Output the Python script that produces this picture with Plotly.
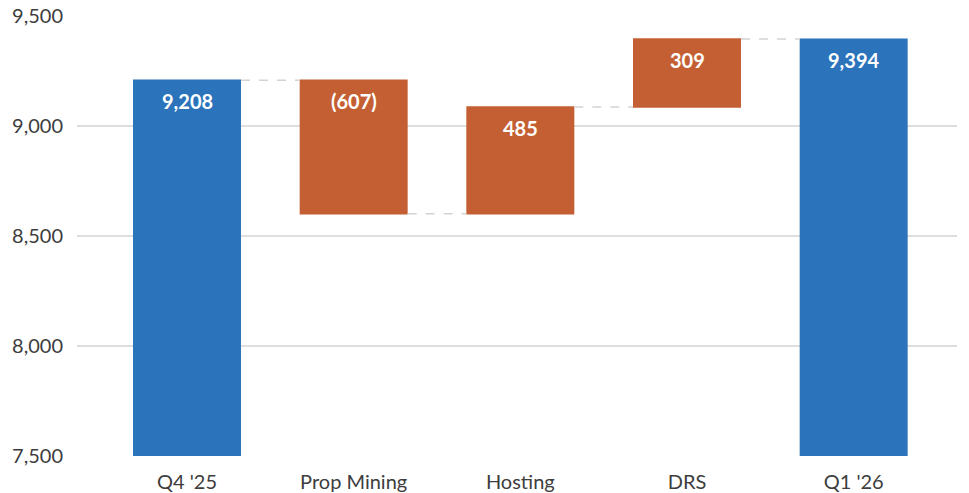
import plotly.graph_objects as go

# Bridge from Q4 '25 to Q1 '26
categories = ["Q4 '25", "Prop Mining", "Hosting", "DRS", "Q1 '26"]
values = [9208, -607, 485, 309, 9394]
measures = ["absolute", "relative", "relative", "relative", "absolute"]
labels = ["9,208", "(607)", "485", "309", "9,394"]
y_ticks = [7500, 8000, 8500, 9000, 9500]

BLUE = "#2B73BA"
ORANGE = "#C45F34"
FONT = "Lato, 'Open Sans', sans-serif"

fig = go.Figure()
fig.add_trace(go.Waterfall(
    x=categories,
    y=values,
    measure=measures,
    width=0.648,
    textposition="none",
    totals=dict(marker=dict(color=BLUE)),
    increasing=dict(marker=dict(color=ORANGE)),
    decreasing=dict(marker=dict(color=ORANGE)),
    connector=dict(mode="between", line=dict(color="#d3d3d3", width=1.5, dash="dash")),
    hoverinfo="skip",
))

# value labels at the top edge of each bar
running = 0
for cat, val, meas, lab in zip(categories, values, measures, labels):
    if meas == "absolute":
        top = val
        running = val
    else:
        top = max(running, running + val)
        running += val
    fig.add_annotation(
        x=cat, y=top, text=lab, showarrow=False,
        yanchor="middle", yshift=-21,
        font=dict(family=FONT, size=20, color="white", weight="bold"),
    )

fig.update_layout(
    width=969, height=493,
    margin=dict(l=77, r=12, t=16, b=37),
    paper_bgcolor="white", plot_bgcolor="white",
    showlegend=False,
    font=dict(family=FONT, size=20, color="#3d3d3d"),
    xaxis=dict(
        type="category", range=[-0.66, 4.62], automargin=False,
        showgrid=False, showline=False, zeroline=False,
        ticks="", ticklabelstandoff=12,
    ),
    yaxis=dict(
        range=[7500, 9500], tickvals=y_ticks, tickformat=",", automargin=False,
        showgrid=True, gridcolor="#dedede", gridwidth=1.5,
        zeroline=False, showline=False, ticks="", ticklabelstandoff=13,
    ),
)

fig.write_html("out.html")
